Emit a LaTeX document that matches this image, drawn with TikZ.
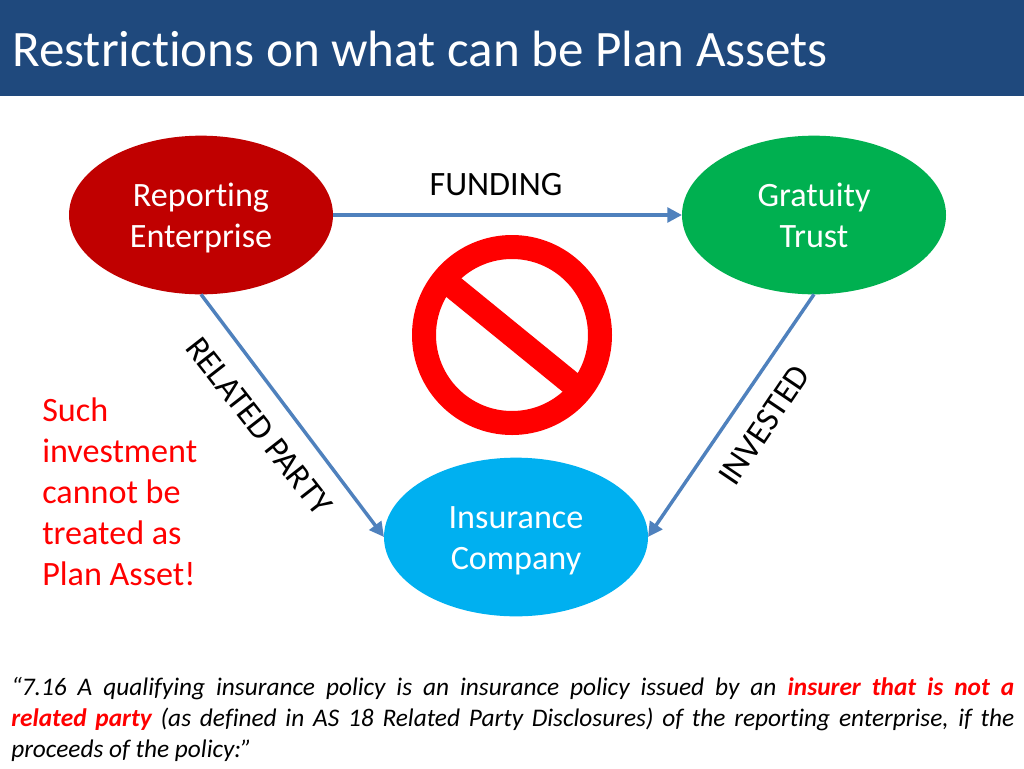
\documentclass[tikz,border=0pt]{standalone}
\usepackage{fontspec}
\setmainfont{Carlito}[Ligatures=NoCommon]
\usetikzlibrary{arrows.meta,shapes.geometric}
\definecolor{headblue}{HTML}{1F497D}
\definecolor{arrowblue}{HTML}{4F81BD}
\definecolor{darkred}{HTML}{C00000}
\definecolor{tgreen}{HTML}{00B050}
\definecolor{tcyan}{HTML}{00B0F0}
\newcommand\tl[1]{\raisebox{-1pt}[22.5pt][6pt]{#1}}
\tikzset{
  blob/.style={ellipse,minimum width=198pt,minimum height=119pt,inner sep=0pt,outer sep=0pt,text=white,align=center,
    font=\fontsize{25.6}{30.75}\selectfont},
  conn/.style={arrowblue,line width=2.6pt,-{Triangle[length=11pt,width=11pt]}},
  lab/.style={inner sep=0pt,font=\fontsize{25.6}{30.75}\selectfont},
  signred/.style={draw=red,line width=18pt}
}
\begin{document}
\begin{tikzpicture}[x=0.75pt,y=-0.75pt]
\useasboundingbox (0,0) rectangle (1024,768);
\fill[headblue] (0,0) rectangle (1024,96);
\node[anchor=west,inner sep=0pt,text=white,font=\fontsize{38.3}{42}\selectfont] (title) at (12,49) {Restrictions on what can be Plan Assets};
\node[blob,fill=darkred] (rep) at (201,215) {\tl{Reporting}\\\tl{Enterprise}};
\node[blob,fill=tgreen] (gra) at (814,215) {\tl{Gratuity}\\\tl{Trust}};
\node[blob,fill=tcyan] (ins) at (516,537) {\tl{Insurance}\\\tl{Company}};
\draw[conn] (rep.east) -- (gra.west);
\draw[conn] (rep.south) -- (ins.west);
\draw[conn] (gra.south) -- (ins.east);
\node[lab] (fund) at (496,185) {FUNDING};
\node[lab,rotate=-52] (rel) at (259,426) {RELATED PARTY};
\node[lab,rotate=56] (inv) at (764,425) {INVESTED};
\draw[signred] (512,335) circle[radius=88];
\draw[red,line width=18pt] (444,279.6) -- (580,390.4);
\node[lab,anchor=north west,align=left,text=red] (such) at (42,398) {Such\\investment\\cannot be\\treated as\\Plan Asset!};
\node[anchor=north west,inner sep=0pt,text width=752.25pt,align=justify,
  font=\fontsize{19}{23.25}\selectfont\itshape] (quote) at (11,677)
  {“7.16 A qualifying insurance policy is an insurance policy issued by an {\bfseries\color{red}insurer that is not a\linebreak related party} (as defined in AS 18 Related Party Disclosures) of the reporting enterprise, if the\linebreak proceeds of the policy:”};
\end{tikzpicture}
\end{document}
